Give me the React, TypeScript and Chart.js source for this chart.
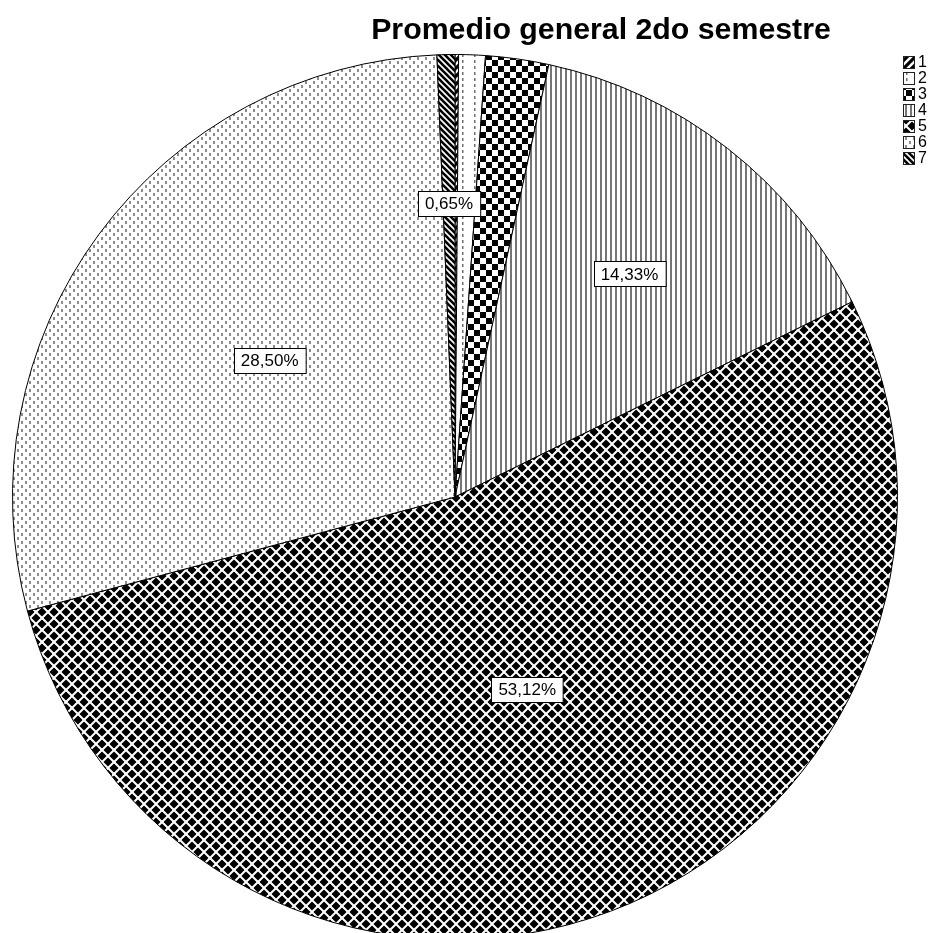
import React, { useEffect, useRef } from "react";
import { Chart, registerables } from "chart.js";

Chart.register(...registerables);

// ---- data ----
const categories = ["1", "2", "3", "4", "5", "6", "7"];
const percentages = [0.13, 0.97, 2.3, 14.33, 53.12, 28.5, 0.65];
const showValueLabel = [false, false, false, true, true, true, true];
const chartTitle = "Promedio general 2do semestre";

// ---- style ----
const FONT = "'Liberation Sans', Arial, sans-serif";
const labelRadiusFactor = [0.6, 0.6, 0.6, 0.64, 0.465, 0.52, 0.664];

type Drawer = (ctx: CanvasRenderingContext2D, s: number) => void;

function makePattern(target: CanvasRenderingContext2D, size: number, draw: Drawer): CanvasPattern {
  const c = document.createElement("canvas");
  c.width = size;
  c.height = size;
  const ctx = c.getContext("2d") as CanvasRenderingContext2D;
  draw(ctx, size);
  return target.createPattern(c, "repeat") as CanvasPattern;
}

function diag(ctx: CanvasRenderingContext2D, s: number, dir: 1 | -1, w: number, color: string) {
  ctx.strokeStyle = color;
  ctx.lineWidth = w;
  ctx.lineCap = "square";
  for (const k of [-s, 0, s]) {
    ctx.beginPath();
    if (dir === 1) {
      ctx.moveTo(k - 1, s + 1);
      ctx.lineTo(k + s + 1, -1);
    } else {
      ctx.moveTo(k - 1, -1);
      ctx.lineTo(k + s + 1, s + 1);
    }
    ctx.stroke();
  }
}

function buildPatterns(t: CanvasRenderingContext2D): CanvasPattern[] {
  return [
    makePattern(t, 8, (c, s) => {
      c.fillStyle = "#000";
      c.fillRect(0, 0, s, s);
      diag(c, s, 1, 2.5, "#fff");
    }),
    makePattern(t, 12, (c, s) => {
      c.fillStyle = "#fff";
      c.fillRect(0, 0, s, s);
      c.fillStyle = "#6f6f6f";
      c.fillRect(6, 0, 1.5, 3);
      c.fillRect(6, 6, 1.5, 3);
    }),
    makePattern(t, 12, (c, s) => {
      c.fillStyle = "#fff";
      c.fillRect(0, 0, s, s);
      c.fillStyle = "#000";
      c.fillRect(0, 0, 6, 6);
      c.fillRect(6, 6, 6, 6);
    }),
    makePattern(t, 5, (c, s) => {
      c.fillStyle = "#fff";
      c.fillRect(0, 0, s, s);
      c.fillStyle = "#767676";
      c.fillRect(0, 0, 2, s);
    }),
    makePattern(t, 12, (c, s) => {
      c.fillStyle = "#000";
      c.fillRect(0, 0, s, s);
      diag(c, s, 1, 2, "#fff");
      diag(c, s, -1, 2, "#fff");
    }),
    makePattern(t, 8, (c, s) => {
      c.fillStyle = "#fff";
      c.fillRect(0, 0, s, s);
      c.fillStyle = "#8c8c8c";
      c.fillRect(1, 1, 2, 3);
      c.fillRect(5, 5, 2, 3);
    }),
    makePattern(t, 6, (c, s) => {
      c.fillStyle = "#fff";
      c.fillRect(0, 0, s, s);
      diag(c, s, -1, 2.6, "#000");
    }),
  ];
}

function formatPct(v: number) {
  return v.toFixed(2).replace(".", ",") + "%";
}

export default function App() {
  const ref = useRef<HTMLCanvasElement | null>(null);

  useEffect(() => {
    const canvas = ref.current;
    if (!canvas) return;
    const ctx = canvas.getContext("2d") as CanvasRenderingContext2D;
    const patterns = buildPatterns(ctx);

    const overlay = {
      id: "overlay",
      afterDraw(chart: any) {
        const c: CanvasRenderingContext2D = chart.ctx;
        c.save();
        // title
        c.fillStyle = "#000";
        c.font = `bold 30.3px ${FONT}`;
        c.textAlign = "center";
        c.textBaseline = "alphabetic";
        c.fillText(chartTitle, 601, 39);

        // legend
        c.font = `16px ${FONT}`;
        c.textAlign = "left";
        c.textBaseline = "middle";
        categories.forEach((cat, i) => {
          const x = 903;
          const y = 56 + i * 16;
          c.fillStyle = patterns[i];
          c.fillRect(x, y, 12, 13);
          c.strokeStyle = "#222";
          c.lineWidth = 1;
          c.strokeRect(x + 0.5, y + 0.5, 11, 12);
          c.fillStyle = "#000";
          c.fillText(cat, x + 15, y + 7);
        });

        // value labels
        const meta = chart.getDatasetMeta(0);
        c.font = `17px ${FONT}`;
        c.textAlign = "center";
        c.textBaseline = "middle";
        meta.data.forEach((arc: any, i: number) => {
          if (!showValueLabel[i]) return;
          const p = arc.getProps(["x", "y", "startAngle", "endAngle", "outerRadius"], true);
          const mid = (p.startAngle + p.endAngle) / 2;
          const r = p.outerRadius * labelRadiusFactor[i];
          const px = p.x + Math.cos(mid) * r;
          const py = p.y + Math.sin(mid) * r;
          const txt = formatPct(percentages[i]);
          const w = c.measureText(txt).width + 14;
          const h = 25;
          const bx = Math.round(px - w / 2) + 0.5;
          const by = Math.round(py - h / 2) + 0.5;
          c.fillStyle = "#fff";
          c.fillRect(bx, by, w, h);
          c.strokeStyle = "#000";
          c.lineWidth = 1;
          c.strokeRect(bx, by, w, h);
          c.fillStyle = "#000";
          c.fillText(txt, px, py + 1);
        });
        c.restore();
      },
    };

    const chart = new Chart(canvas, {
      type: "pie",
      data: {
        labels: categories,
        datasets: [
          {
            data: percentages,
            backgroundColor: patterns,
            borderColor: "#000",
            borderWidth: 1,
          },
        ],
      },
      options: {
        responsive: false,
        animation: false,
        devicePixelRatio: 1,
        layout: { padding: { left: 12, right: 45, top: 54, bottom: 20 } },
        plugins: {
          legend: { display: false },
          title: { display: false },
          tooltip: { enabled: false },
        },
      },
      plugins: [overlay],
    });
    return () => chart.destroy();
  }, []);

  return (
    <div
      style={{
        position: "fixed",
        left: 0,
        top: 0,
        width: 943,
        height: 933,
        overflow: "hidden",
        background: "#fff",
      }}
    >
      <canvas ref={ref} width={943} height={960} style={{ display: "block", width: 943, height: 960 }} />
    </div>
  );
}
